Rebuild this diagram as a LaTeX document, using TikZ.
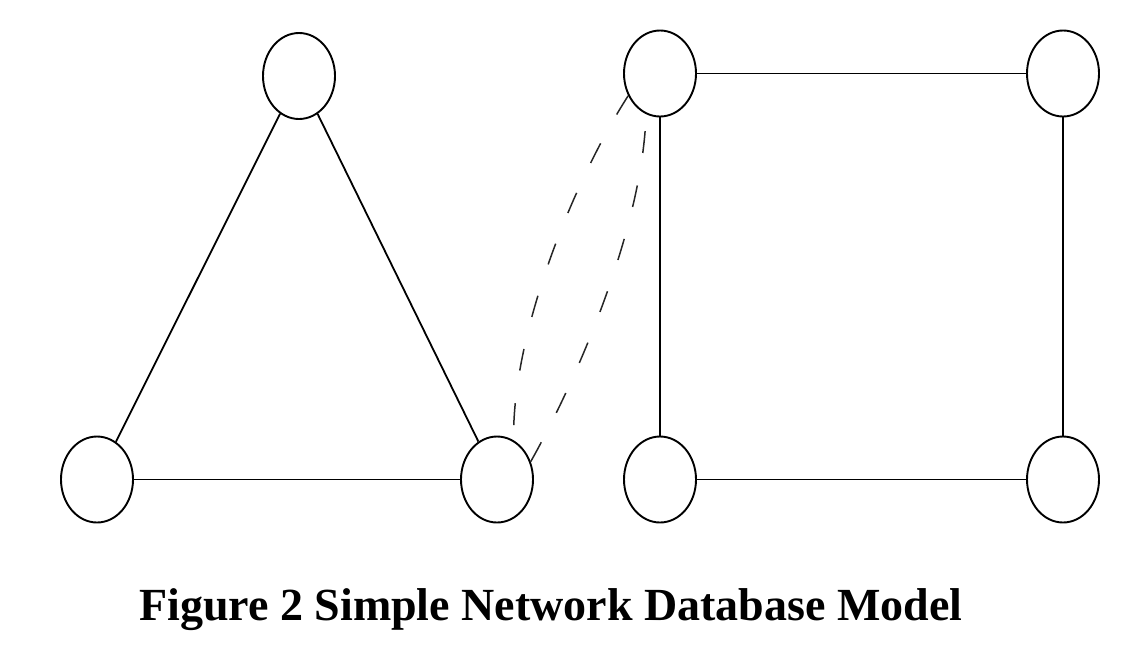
\documentclass[tikz,border=0pt]{standalone}
\usepackage{fontspec}
\setmainfont{Liberation Serif}
\usetikzlibrary{shapes.geometric}
\begin{document}
\begin{tikzpicture}[x=1pt,y=-1pt,
  rec/.style={draw=black,ellipse,minimum width=72pt,minimum height=86pt,inner sep=0pt,line width=1.9pt},
  link/.style={draw=black,line width=1.8pt},
  dlink/.style={draw=black!85,line width=1.5pt,dash pattern=on 22pt off 33pt}]
\useasboundingbox (0,0) rectangle (1140,654);
\node[rec] (t1) at (299,76) {};
\node[rec] (t2) at (97,479.5) {};
\node[rec] (t3) at (497,479.5) {};
\node[rec] (s1) at (660,73.5) {};
\node[rec] (s2) at (1063,73.5) {};
\node[rec] (s3) at (660,479.5) {};
\node[rec] (s4) at (1063,479.5) {};
\draw[link] (t1) -- (t2);
\draw[link] (t1) -- (t3);
\draw[link] (t2) -- (t3);
\draw[link] (s1) -- (s2);
\draw[link] (s1) -- (s3);
\draw[link] (s2) -- (s4);
\draw[link] (s3) -- (s4);
\draw[dlink] (s1.215) .. controls +(-54,84) and +(-2,-107) .. (t3.67);
\draw[dlink] (t3.28) .. controls +(49,-87) and +(-3,110) .. (s1.251);
\node[anchor=base west,inner sep=0pt,font=\fontsize{46pt}{50pt}\selectfont\bfseries] (cap) at (139,620) {Figure 2 Simple Network Database Model};
\end{tikzpicture}
\end{document}
